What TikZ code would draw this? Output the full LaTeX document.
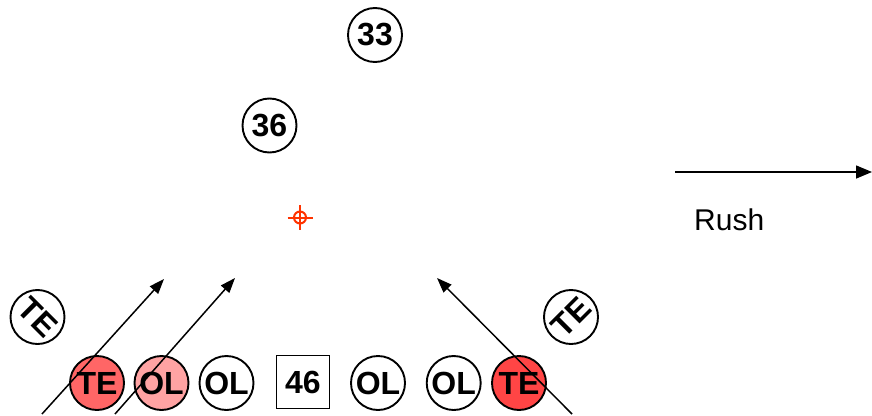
\documentclass[tikz,border=0pt]{standalone}
\usepackage{fontspec}
\setmainfont{Liberation Sans}
\usetikzlibrary{arrows.meta}
\definecolor{teleft}{HTML}{FF6666}
\definecolor{olpink}{HTML}{FFA3A3}
\definecolor{teright}{HTML}{FF4545}
\definecolor{cross}{HTML}{FF3300}
\begin{document}
\begin{tikzpicture}[x=1pt,y=-1pt,
  player/.style={circle,draw=black,line width=1.9pt,minimum size=54pt,inner sep=0pt,
     font=\fontsize{32}{32}\selectfont\bfseries},
  boxplayer/.style={rectangle,draw=black,line width=1.9pt,minimum size=53pt,inner sep=0pt,
     font=\fontsize{32}{32}\selectfont\bfseries},
  route/.style={line width=1.5pt,-{Triangle[length=15pt,width=11pt]}}]
\useasboundingbox (0,0) rectangle (872,415);
% defenders
\node[player] (p33) at (375,35) {33};
\node[player] (p36) at (269.5,125.5) {36};
% crosshair
\draw[cross,line width=2pt] (300,217.5) circle (6);
\draw[cross,line width=2pt] (287.5,217.5) -- (312.5,217.5) (300,205) -- (300,230);
% rush legend
\coordinate (rs) at (675,172);
\coordinate (re) at (872,172);
\draw[line width=1.5pt,-{Triangle[length=16pt,width=13pt]}] (rs) -- (re);
\node[anchor=base west,inner sep=0pt,font=\fontsize{30}{30}\selectfont] (rush) at (694,230) {Rush};
% line
\node[player,fill=teleft] (te1) at (97,383) {TE};
\node[player,fill=olpink] (ol1) at (161.5,383) {OL};
\node[player] (ol2) at (226.5,383) {OL};
\node[boxplayer] (c46) at (303,382) {46};
\node[player] (ol3) at (378,383) {OL};
\node[player] (ol4) at (453.7,383) {OL};
\node[player,fill=teright] (te2) at (519,383) {TE};
\node[player,rotate=-45] (tel) at (37.5,317) {TE};
\node[player,rotate=45] (ter) at (571,317) {TE};
% routes
\coordinate (a1s) at (42,414);
\coordinate (a1e) at (164,279);
\coordinate (a2s) at (115,414);
\coordinate (a2e) at (235,278);
\coordinate (a3s) at (572,414);
\coordinate (a3e) at (437,278);
\draw[route] (a1s) -- (a1e);
\draw[route] (a2s) -- (a2e);
\draw[route] (a3s) -- (a3e);
\end{tikzpicture}
\end{document}
